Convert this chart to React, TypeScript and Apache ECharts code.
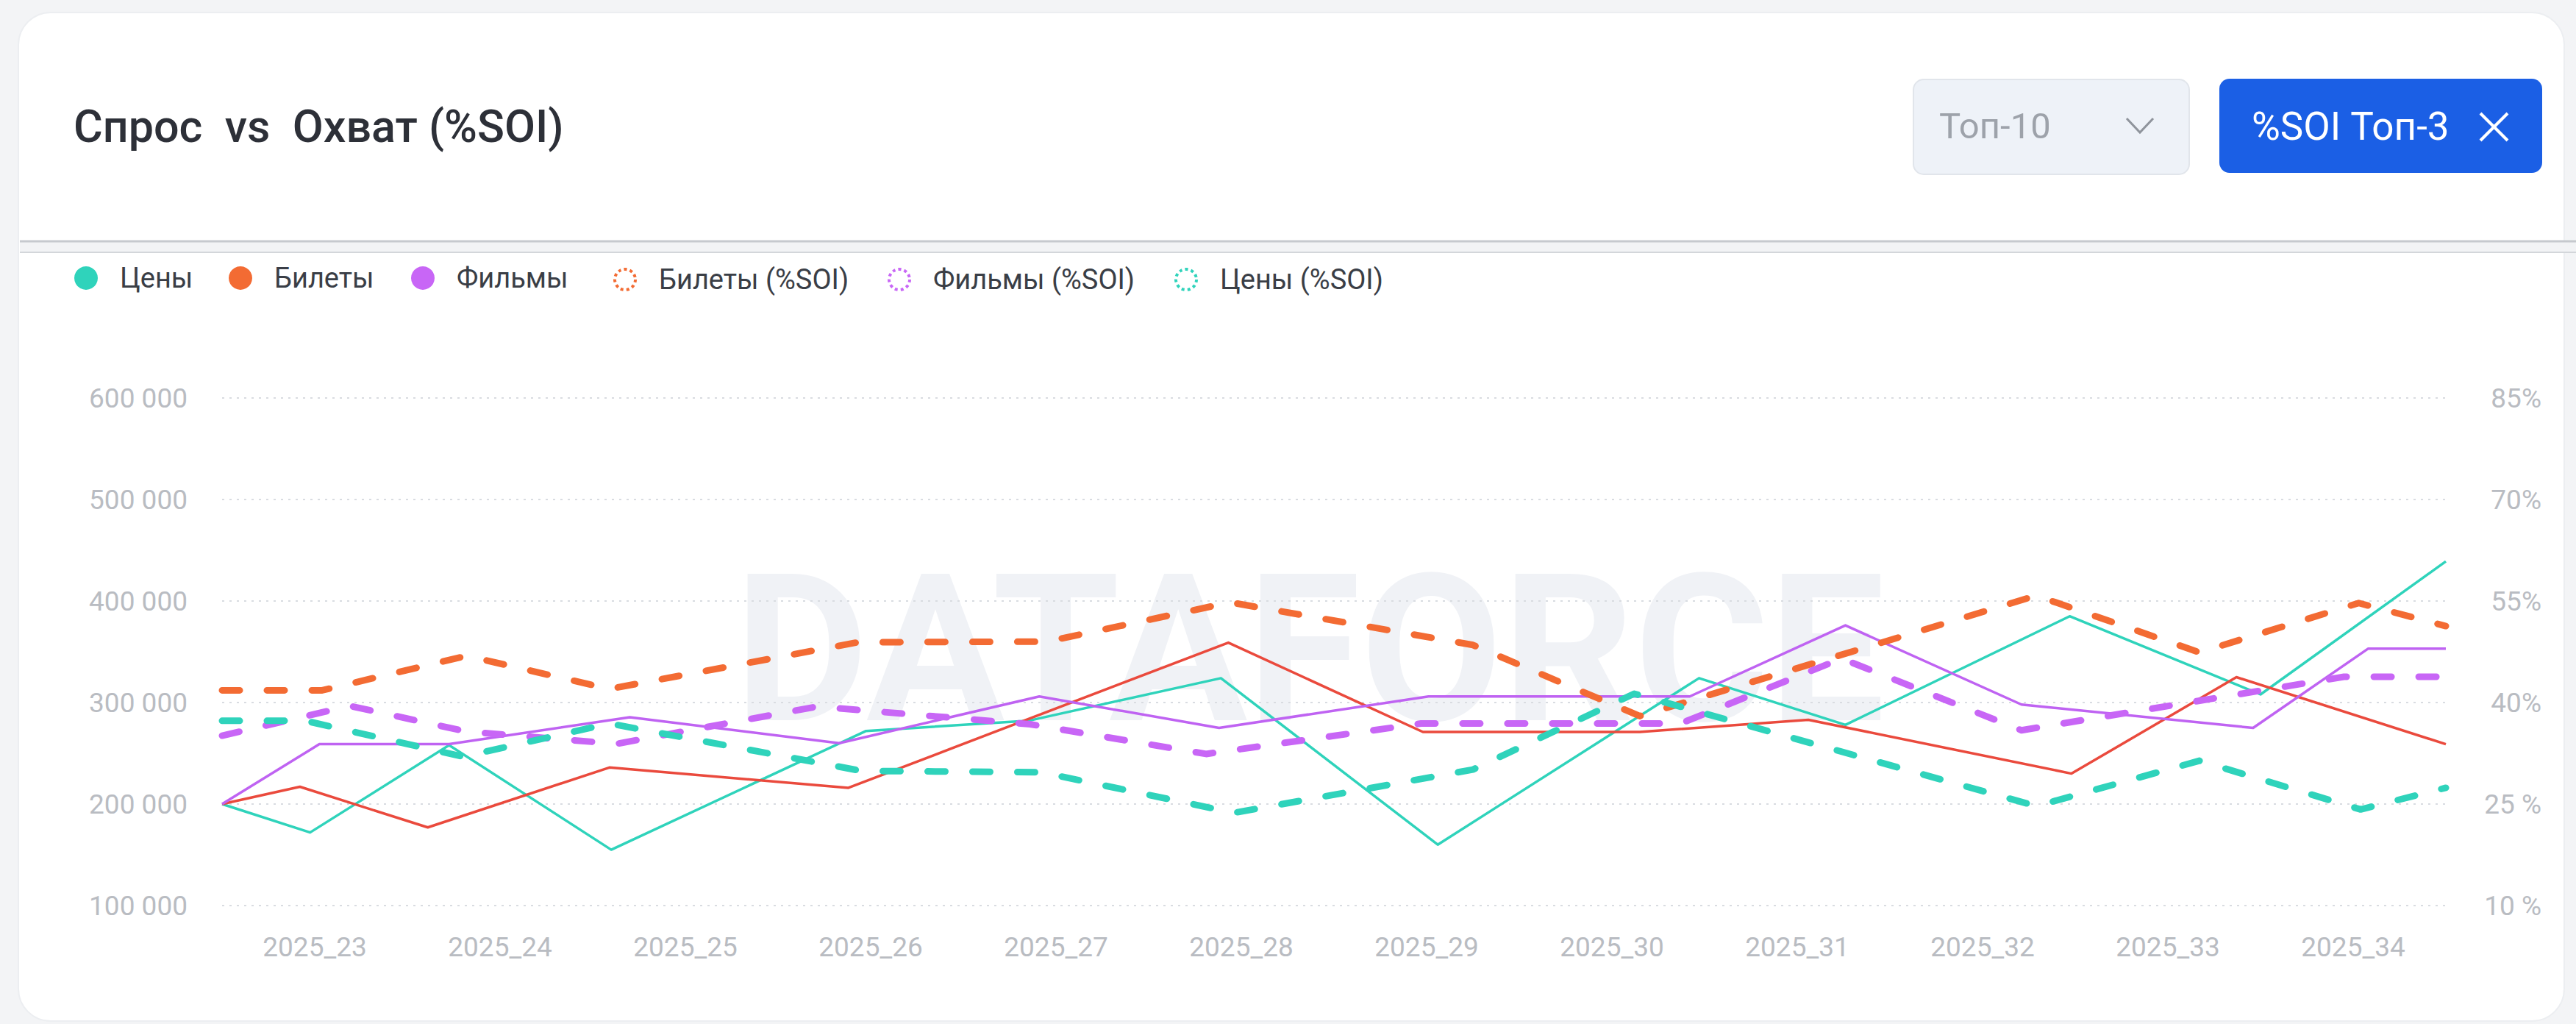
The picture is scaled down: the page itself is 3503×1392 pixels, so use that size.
import React, { useEffect, useRef } from 'react';
import * as echarts from 'echarts';

// ---------- data ----------
const weekLabels = ['2025_23', '2025_24', '2025_25', '2025_26', '2025_27', '2025_28', '2025_29', '2025_30', '2025_31', '2025_32', '2025_33', '2025_34'];

const leftTickLabels = ['100 000', '200 000', '300 000', '400 000', '500 000', '600 000'];
const rightTickLabels = ['10 %', '25 %', '40%', '55%', '70%', '85%'];

// positions along the week scale (0..12) where each series has a vertex
const pricesX = [0, 0.475, 1.225, 2.1, 3.475, 4.35, 5.39, 6.56, 7.97, 8.76, 9.97, 11.0, 12];
const pricesDemand = [200000, 172000, 258000, 155000, 272000, 282000, 324000, 160000, 324000, 278000, 385000, 308000, 439000];

const ticketsX = [0, 0.42, 1.11, 2.09, 3.38, 5.43, 6.48, 7.65, 8.56, 9.98, 10.87, 12];
const ticketsDemand = [200000, 217000, 177000, 236000, 216000, 359000, 271000, 271000, 283000, 230000, 325000, 259000];

const filmsX = [0, 0.525, 1.225, 2.2, 3.33, 4.41, 5.38, 6.51, 7.92, 8.76, 9.71, 10.96, 11.58, 12];
const filmsDemand = [200000, 259000, 259000, 285500, 260000, 306000, 275000, 306000, 306000, 376000, 298000, 275000, 353000, 353000];

const ticketsSoiX = [0, 0.54, 1.32, 2.09, 3.43, 4.45, 5.44, 6.75, 7.65, 9.79, 10.67, 11.53, 12];
const ticketsSoi = [41.8, 41.8, 46.9, 42.0, 48.9, 49.0, 54.8, 48.5, 38.0, 55.8, 47.4, 54.7, 51.3];

const filmsSoiX = [0, 0.69, 1.32, 2.13, 3.21, 4.36, 5.31, 6.47, 7.87, 8.74, 9.71, 11.45, 12];
const filmsSoi = [35.1, 39.5, 35.7, 33.9, 39.4, 36.8, 32.4, 36.9, 36.9, 46.5, 35.9, 43.8, 43.8];

const pricesSoiX = [0, 0.45, 1.3, 2.09, 3.45, 4.42, 5.46, 6.75, 7.62, 9.79, 10.67, 11.54, 12];
const pricesSoi = [37.3, 37.3, 32.0, 36.9, 29.9, 29.7, 23.7, 30.1, 41.3, 24.7, 31.4, 24.2, 27.4];

// ---------- styles ----------
const CYAN = '#2fd3bb';
const RED = '#ea4a3d';
const ORANGE = '#f36b33';
const PURPLE = '#bf63f2';
const PURPLE_D = '#c866f6';
const FONT = 'Roboto, "Noto Sans", sans-serif';
const AXIS_TEXT = '#b9bcc2';

const zip = (xs: number[], ys: number[]) => xs.map((x, i) => [x, ys[i]]);

const legendDefs = [
  { name: 'Цены', color: CYAN, ring: false, center: 116 },
  { name: 'Билеты', color: ORANGE, ring: false, center: 326 },
  { name: 'Фильмы', color: PURPLE_D, ring: false, center: 574 },
  { name: 'Билеты (%SOI)', color: ORANGE, ring: true, center: 849 },
  { name: 'Фильмы (%SOI)', color: PURPLE_D, ring: true, center: 1222 },
  { name: 'Цены (%SOI)', color: CYAN, ring: true, center: 1612 },
];

function buildOption() {
  const solid = (name: string, xs: number[], ys: number[], color: string) => ({
    name,
    type: 'line',
    xAxisIndex: 1,
    yAxisIndex: 0,
    data: zip(xs, ys),
    symbol: 'none',
    showSymbol: false,
    itemStyle: { color },
    lineStyle: { color, width: 3.5, join: 'round' },
    z: 2,
  });
  const dashed = (name: string, xs: number[], ys: number[], color: string) => ({
    name,
    type: 'line',
    xAxisIndex: 1,
    yAxisIndex: 1,
    data: zip(xs, ys),
    symbol: 'none',
    showSymbol: false,
    itemStyle: { color },
    lineStyle: { color, width: 9, type: [24, 37], cap: 'round', join: 'round' },
    z: 3,
  });

  const legends = legendDefs.map((d) => ({
    show: true,
    orient: 'horizontal',
    left: d.center - 15,
    top: d.ring ? 361 : 359,
    padding: 0,
    itemWidth: 82,
    itemHeight: d.ring ? 28 : 32,
    selectedMode: false,
    textStyle: { fontSize: 38, color: '#3a3e46', fontFamily: FONT },
    data: [
      {
        name: d.name,
        icon: 'circle',
        itemStyle: d.ring
          ? { color: '#ffffff', borderColor: d.color, borderWidth: 4, borderType: [4, 4] }
          : { color: d.color, borderWidth: 0 },
      },
    ],
  }));

  return {
    animation: false,
    backgroundColor: '#f3f4f6',
    textStyle: { fontFamily: FONT },
    grid: { left: 302, right: 177, top: 541, bottom: 161, containLabel: false },
    legend: legends,
    xAxis: [
      {
        type: 'category',
        data: weekLabels,
        boundaryGap: true,
        axisLine: { show: false },
        axisTick: { show: false },
        splitLine: { show: false },
        axisLabel: { color: AXIS_TEXT, fontSize: 37, fontFamily: FONT, margin: 38 },
      },
      { type: 'value', min: 0, max: 12, show: false },
    ],
    yAxis: [
      {
        type: 'value',
        min: 100000,
        max: 600000,
        interval: 100000,
        axisLine: { show: false },
        axisTick: { show: false },
        axisLabel: {
          color: AXIS_TEXT,
          fontSize: 37,
          fontFamily: FONT,
          margin: 47,
          formatter: (v: number) => leftTickLabels[Math.round((v - 100000) / 100000)],
        },
        splitLine: { show: true, lineStyle: { color: '#d9dce1', width: 2, type: [3, 7] } },
      },
      {
        type: 'value',
        position: 'right',
        min: 10,
        max: 85,
        interval: 15,
        axisLine: { show: false },
        axisTick: { show: false },
        splitLine: { show: false },
        axisLabel: {
          color: AXIS_TEXT,
          fontSize: 37,
          fontFamily: FONT,
          margin: 130,
          align: 'right',
          formatter: (v: number) => rightTickLabels[Math.round((v - 10) / 15)],
        },
      },
    ],
    graphic: [
      {
        type: 'rect',
        z: -20,
        shape: { x: 25, y: 17, width: 3462, height: 1371, r: 44 },
        style: { fill: '#ffffff', stroke: '#eceef1', lineWidth: 2 },
      },
      {
        type: 'rect',
        z: -19,
        shape: { x: 27, y: 328, width: 3476, height: 15 },
        style: { fill: '#f2f3f5' },
      },
      {
        type: 'line',
        z: -18,
        shape: { x1: 27, y1: 328, x2: 3503, y2: 328 },
        style: { stroke: '#c6c9ce', lineWidth: 3 },
      },
      {
        type: 'line',
        z: -18,
        shape: { x1: 27, y1: 343, x2: 3503, y2: 343 },
        style: { stroke: '#d3d6da', lineWidth: 2 },
      },
      {
        type: 'text',
        z: -15,
        x: 1781,
        y: 883,
        style: {
          text: 'DATAFORCE',
          fontSize: 280,
          fontWeight: 'bold',
          fontFamily: FONT,
          fill: '#f0f2f6',
          align: 'center',
          verticalAlign: 'middle',
        },
      },
      {
        type: 'text',
        z: 10,
        x: 100,
        y: 172,
        style: {
          text: 'Спрос  vs  Охват (%SOI)',
          fontSize: 61,
          fontWeight: 500,
          fontFamily: FONT,
          fill: '#2d3038',
          align: 'left',
          verticalAlign: 'middle',
        },
      },
      {
        type: 'rect',
        z: 10,
        shape: { x: 2602, y: 108, width: 375, height: 129, r: 14 },
        style: { fill: '#eef2f8', stroke: '#e1e5eb', lineWidth: 2 },
      },
      {
        type: 'text',
        z: 11,
        x: 2637,
        y: 171,
        style: {
          text: 'Топ-10',
          fontSize: 49,
          fontFamily: FONT,
          fill: '#9da2aa',
          align: 'left',
          verticalAlign: 'middle',
        },
      },
      {
        type: 'polyline',
        z: 11,
        shape: { points: [[2892, 161], [2910, 180], [2928, 161]] },
        style: { stroke: '#8f949c', lineWidth: 3, fill: 'none' },
      },
      {
        type: 'rect',
        z: 10,
        shape: { x: 3018, y: 107, width: 439, height: 128, r: 14 },
        style: { fill: '#1b5fe5' },
      },
      {
        type: 'text',
        z: 11,
        x: 3062,
        y: 172,
        style: {
          text: '%SOI Топ-3',
          fontSize: 53,
          fontFamily: FONT,
          fill: '#ffffff',
          align: 'left',
          verticalAlign: 'middle',
        },
      },
      {
        type: 'line',
        z: 11,
        shape: { x1: 3373, y1: 154, x2: 3410, y2: 191 },
        style: { stroke: '#ffffff', lineWidth: 4 },
      },
      {
        type: 'line',
        z: 11,
        shape: { x1: 3410, y1: 154, x2: 3373, y2: 191 },
        style: { stroke: '#ffffff', lineWidth: 4 },
      },
    ],
    series: [
      solid('Цены', pricesX, pricesDemand, CYAN),
      solid('Билеты', ticketsX, ticketsDemand, RED),
      solid('Фильмы', filmsX, filmsDemand, PURPLE),
      dashed('Билеты (%SOI)', ticketsSoiX, ticketsSoi, ORANGE),
      dashed('Фильмы (%SOI)', filmsSoiX, filmsSoi, PURPLE_D),
      dashed('Цены (%SOI)', pricesSoiX, pricesSoi, CYAN),
    ],
  };
}

export default function App() {
  const ref = useRef<HTMLDivElement>(null);
  useEffect(() => {
    document.body.style.margin = '0';
    const chart = echarts.init(ref.current as HTMLDivElement, null, { renderer: 'svg' });
    chart.setOption(buildOption() as any);
    return () => {
      chart.dispose();
    };
  }, []);
  return <div ref={ref} style={{ width: 3503, height: 1392 }} />;
}
